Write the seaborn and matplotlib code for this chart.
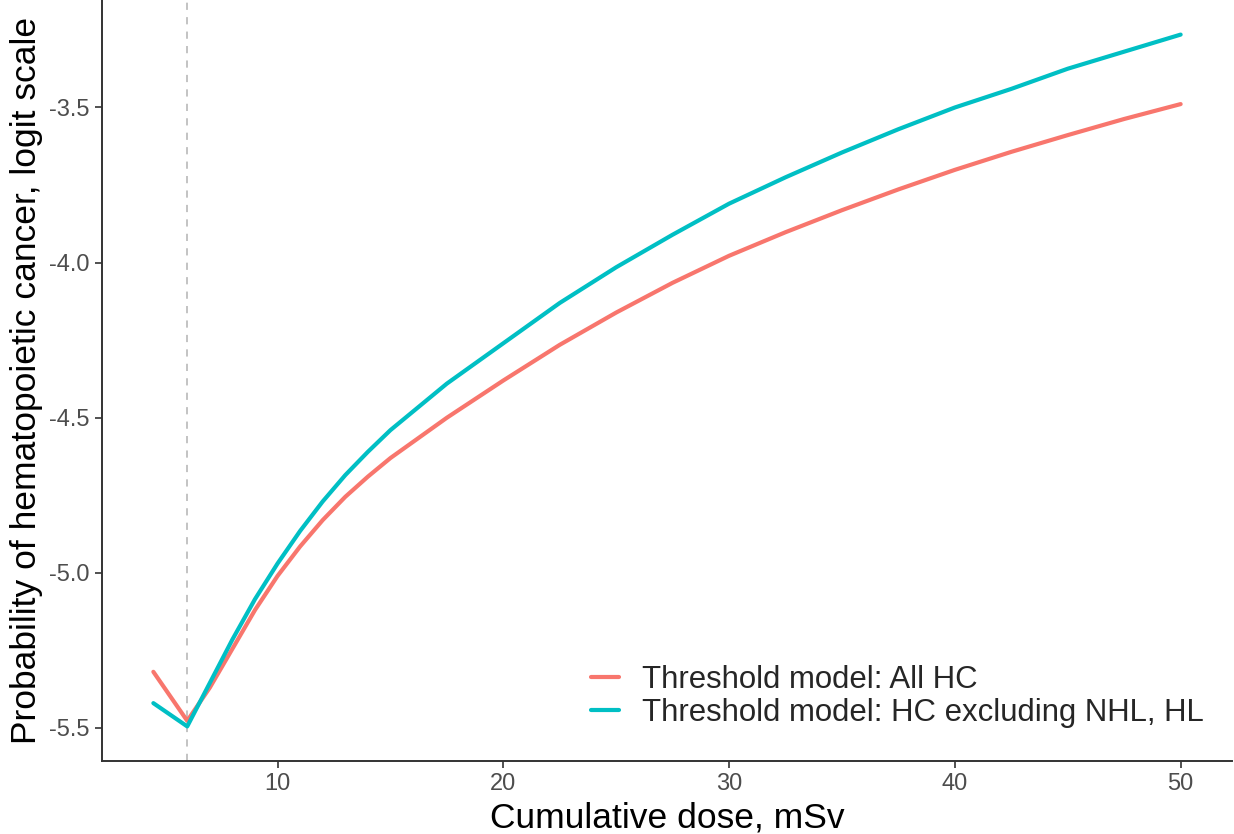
import matplotlib
matplotlib.use("Agg")
import matplotlib.pyplot as plt
import seaborn as sns
import pandas as pd

# ---- data ----
dose = [4.5, 6, 7, 8, 9, 10, 11, 12, 13, 14, 15, 17.5, 20, 22.5, 25,
        27.5, 30, 32.5, 35, 37.5, 40, 42.5, 45, 47.5, 50]
all_hc = [-5.319, -5.477, -5.37, -5.245, -5.12, -5.01, -4.915, -4.83, -4.755,
          -4.69, -4.63, -4.50, -4.38, -4.265, -4.161, -4.065, -3.978, -3.902,
          -3.831, -3.764, -3.701, -3.643, -3.589, -3.537, -3.489]
hc_excl = [-5.42, -5.495, -5.355, -5.215, -5.085, -4.97, -4.865, -4.77, -4.685,
           -4.61, -4.54, -4.39, -4.26, -4.13, -4.015, -3.91, -3.81, -3.725,
           -3.645, -3.57, -3.50, -3.44, -3.375, -3.32, -3.265]
series_names = ["Threshold model: All HC", "Threshold model: HC excluding NHL, HL"]
threshold = 6
x_ticks = [10, 20, 30, 40, 50]
y_ticks = [-5.5, -5.0, -4.5, -4.0, -3.5]

df = pd.DataFrame({
    "dose": dose * 2,
    "logit": all_hc + hc_excl,
    "model": [series_names[0]] * len(dose) + [series_names[1]] * len(dose),
})

sns.set_theme(style="white")
plt.rcParams["font.family"] = ["Liberation Sans", "DejaVu Sans"]

fig = plt.figure(figsize=(12.34, 8.34), dpi=100)
ax = fig.add_axes([102 / 1234, 1 - 761 / 834, 1130 / 1234, 761 / 834])

ax.axvline(threshold, color="#BEBEBE", linestyle=(0, (4, 4)), linewidth=1.3, zorder=1)

sns.lineplot(data=df, x="dose", y="logit", hue="model", sort=False,
             palette=["#F8766D", "#00BFC4"], linewidth=3, ax=ax, zorder=2)

xr = max(dose) - min(dose)
ax.set_xlim(min(dose) - 0.05 * xr, max(dose) + 0.05 * xr)
ymin = min(all_hc + hc_excl); ymax = max(all_hc + hc_excl)
yr = ymax - ymin
ax.set_ylim(ymin - 0.05 * yr, ymax + 0.05 * yr)

ax.set_xticks(x_ticks)
ax.set_xticklabels([str(t) for t in x_ticks])
ax.set_yticks(y_ticks)
ax.set_yticklabels([f"{t:.1f}" for t in y_ticks])

for s in ["top", "right"]:
    ax.spines[s].set_visible(False)
for s in ["left", "bottom"]:
    ax.spines[s].set_color("#333333")
    ax.spines[s].set_linewidth(1.4)

ax.tick_params(axis="both", which="both", direction="out", length=5, width=1.2,
               color="#333333", labelsize=17, labelcolor="#4D4D4D", pad=4,
               bottom=True, left=True)

ax.set_xlabel("Cumulative dose, mSv", fontsize=25.5, color="black", labelpad=4)
ax.set_ylabel("Probability of hematopoietic cancer, logit scale", fontsize=25.5,
              color="black", labelpad=4)

leg = ax.legend(loc="center left", bbox_to_anchor=(0.433, 0.085), frameon=False,
                fontsize=22.4, handlelength=0.9, handletextpad=0.74,
                labelspacing=0.08, borderpad=0, borderaxespad=0)
for line in leg.get_lines():
    line.set_linewidth(3)

fig.savefig("out.png", dpi=100, facecolor="white")
